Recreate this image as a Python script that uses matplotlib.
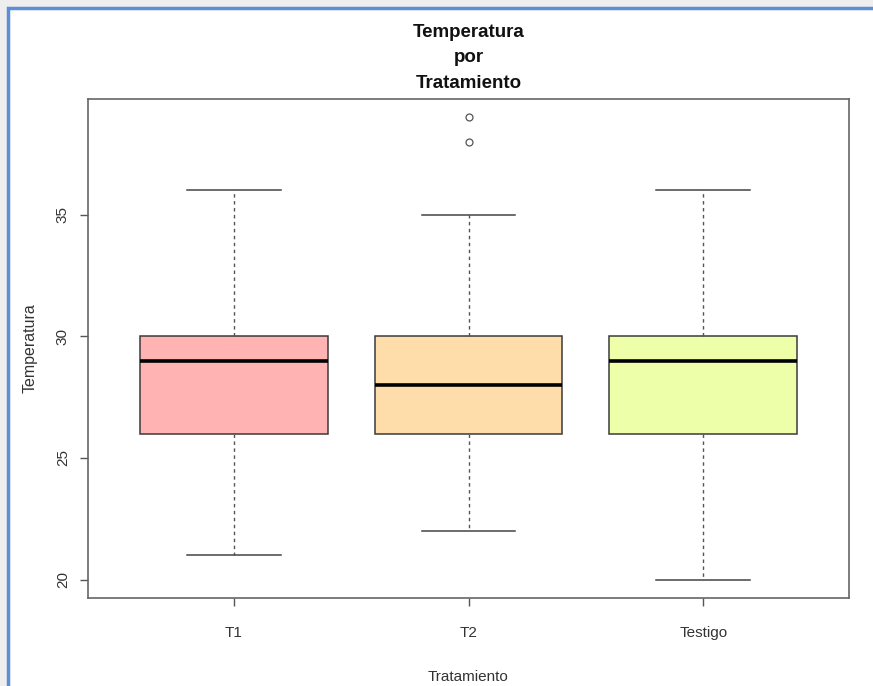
import numpy as np
import matplotlib.pyplot as plt
from matplotlib.patches import Rectangle

plt.rcParams['font.family'] = ['Liberation Sans', 'DejaVu Sans']

# summary values
groups = ['T1', 'T2', 'Testigo']
whislo = [21, 22, 20]
q1 = [26, 26, 26]
med = [29, 28, 29]
q3 = [30, 30, 30]
whishi = [36, 35, 36]
fliers = [[], [38, 39], []]
colors = ['#FFB3B3', '#FFDDAA', '#EEFFAA']

stats = []
for i in range(len(groups)):
    stats.append(dict(label=groups[i], whislo=whislo[i], q1=q1[i], med=med[i],
                      q3=q3[i], whishi=whishi[i], fliers=fliers[i]))

fig = plt.figure(figsize=(8.73, 6.86), dpi=100)
fig.patch.set_facecolor('#eeeeee')

# white page with blue frame
frame = Rectangle((8 / 873, -0.01), 1.0, 1 - 8 / 686 + 0.01, transform=fig.transFigure,
                  facecolor='white', edgecolor='#5b8fd6', linewidth=2.5, zorder=-5)
fig.add_artist(frame)

ax = fig.add_axes([88 / 873, 1 - 598 / 686, (849 - 88) / 873, (598 - 99) / 686])
ax.set_zorder(2)
ax.set_facecolor('white')

bp = ax.bxp(stats, positions=[1, 2, 3], widths=0.8, capwidths=0.4, patch_artist=True,
            boxprops=dict(edgecolor='#3a3a3a', linewidth=1.1),
            medianprops=dict(color='black', linewidth=2.6),
            whiskerprops=dict(color='#555555', linewidth=1, linestyle=(0, (2.5, 2.5))),
            capprops=dict(color='#444444', linewidth=1.1),
            flierprops=dict(marker='o', markersize=5, markerfacecolor='none',
                            markeredgecolor='#555555', markeredgewidth=0.9))
for patch, c in zip(bp['boxes'], colors):
    patch.set_facecolor(c)

ax.set_xlim(0.38, 3.62)
ax.set_ylim(19.24, 39.76)
ax.set_yticks([20, 25, 30, 35])
ax.set_yticklabels(['20', '25', '30', '35'], rotation=90, va='center')
ax.set_xticks([1, 2, 3])
ax.set_xticklabels(groups)

for s in ax.spines.values():
    s.set_color('#666666')
    s.set_linewidth(1.2)
ax.tick_params(axis='both', colors='#555555', labelcolor='#333333', labelsize=11,
               length=6, width=1)
ax.tick_params(axis='x', pad=14)
ax.tick_params(axis='y', pad=7)

ax.set_xlabel('Tratamiento', fontsize=11, color='#333333', labelpad=22)
ax.set_ylabel('Temperatura', fontsize=11.5, color='#333333', labelpad=13)

fig.text((88 + 849) / 2 / 873, 1 - 24 / 686, 'Temperatura\npor\nTratamiento', ha='center',
         va='top', fontsize=13.5, fontweight='bold', linespacing=1.65, color='#111111',
         zorder=3)

fig.savefig('out.png', dpi=100, facecolor=fig.get_facecolor())
